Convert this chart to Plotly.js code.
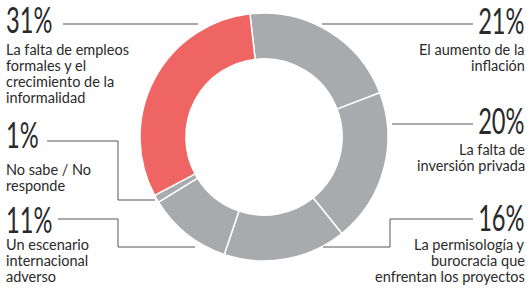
<!DOCTYPE html>
<html><head><meta charset="utf-8">
<script src="https://cdn.plot.ly/plotly-3.0.1.min.js"></script>
<style>html,body{margin:0;padding:0;background:#fff;}#chart{width:529px;height:291px;}</style>
</head><body><div id="chart"></div>
<script>
// ---- data ----
const labels = ["El aumento de la inflación", "La falta de inversión privada",
  "La permisología y burocracia que enfrentan los proyectos", "Un escenario internacional adverso",
  "No sabe / No responde", "La falta de empleos formales y el crecimiento de la informalidad"];
const values = [21, 20, 16, 11, 1, 31];
const labelLines = [
  ["El aumento de la", "inflación"],
  ["La falta de", "inversión privada"],
  ["La permisología y", "burocracia que", "enfrentan los proyectos"],
  ["Un escenario", "internacional", "adverso"],
  ["No sabe / No", "responde"],
  ["La falta de empleos", "formales y el", "crecimiento de la", "informalidad"]
];

// ---- styling / placement (pixels) ----
const W = 529, H = 291;
const GREY = "#a9aaad", RED = "#ef6563";
const sliceColors = [GREY, GREY, GREY, GREY, GREY, RED];
const place = [
  {side: "right", x: 526, pctBase: 33, base0: 55},
  {side: "right", x: 526, pctBase: 133, base0: 155},
  {side: "right", x: 526, pctBase: 230, base0: 250},
  {side: "left", x: 5, pctBase: 232, base0: 250},
  {side: "left", x: 5, pctBase: 147, base0: 175},
  {side: "left", x: 5, pctBase: 32, base0: 55}
];
const leaders = [
  [[322, 24], [473, 24]],
  [[392, 124], [473, 124]],
  [[323, 247], [390, 247], [390, 219], [473, 219]],
  [[58, 219], [118, 219], [118, 247], [195, 247]],
  [[47, 141], [118, 141], [118, 200], [155, 200]],
  [[63, 24], [198, 24]]
];
const LINE_GAP = 16, PCT_FS = 37, LBL_FS = 14.5, PCT_SCALE = 0.64;
const px = x => x / W, py = y => 1 - y / H;

const cx = 264, cy = 137, R = 124;
const trace = {
  type: "pie", labels: labels, values: values, sort: false, direction: "clockwise",
  rotation: -6.5, hole: 0.63, textinfo: "none", hoverinfo: "label+percent",
  marker: {colors: sliceColors, line: {color: "#ffffff", width: 1.5}},
  domain: {x: [px(cx - R), px(cx + R)], y: [py(cy + R), py(cy - R)]},
  showlegend: false
};

const annotations = [];
values.forEach((v, i) => {
  const p = place[i];
  annotations.push({
    xref: "paper", yref: "paper", x: px(p.x), y: py(p.pctBase - 0.36 * PCT_FS),
    xanchor: p.side, yanchor: "middle", showarrow: false, borderpad: 0,
    text: v + "%", font: {family: "Lato, sans-serif", weight: 400, size: PCT_FS, color: "#2a2a2a"}
  });
  labelLines[i].forEach((t, k) => {
    annotations.push({
      xref: "paper", yref: "paper", x: px(p.x), y: py(p.base0 + k * LINE_GAP - 0.36 * LBL_FS),
      xanchor: p.side, yanchor: "middle", showarrow: false, borderpad: 0,
      text: t, font: {family: "Lato, sans-serif", size: LBL_FS, color: "#2a2a2a"}
    });
  });
});

const shapes = leaders.map(pts => ({
  type: "path", xref: "paper", yref: "paper",
  path: pts.map((q, j) => (j ? "L" : "M") + px(q[0]) + "," + py(q[1])).join(" "),
  line: {color: "#555555", width: 1}
}));

Plotly.newPlot("chart", [trace], {
  width: W, height: H, margin: {l: 0, r: 0, t: 0, b: 0},
  paper_bgcolor: "#ffffff", plot_bgcolor: "#ffffff",
  annotations: annotations, shapes: shapes
}, {displayModeBar: false, staticPlot: true}).then(gd => {
  // condense the big percentage figures horizontally, keeping their outer edge fixed
  let n = 0;
  gd.querySelectorAll(".annotation-text").forEach(el => {
    if (!/%$/.test(el.textContent)) return;
    const side = place[values.map(v => v + "%").indexOf(el.textContent)].side;
    n++;
    const b = el.getBBox();
    const ax = side === "left" ? b.x : b.x + b.width;
    const prev = el.getAttribute("transform") || "";
    el.setAttribute("transform", prev + ` translate(${ax},0) scale(${PCT_SCALE},1) translate(${-ax},0)`);
  });
});
</script></body></html>
